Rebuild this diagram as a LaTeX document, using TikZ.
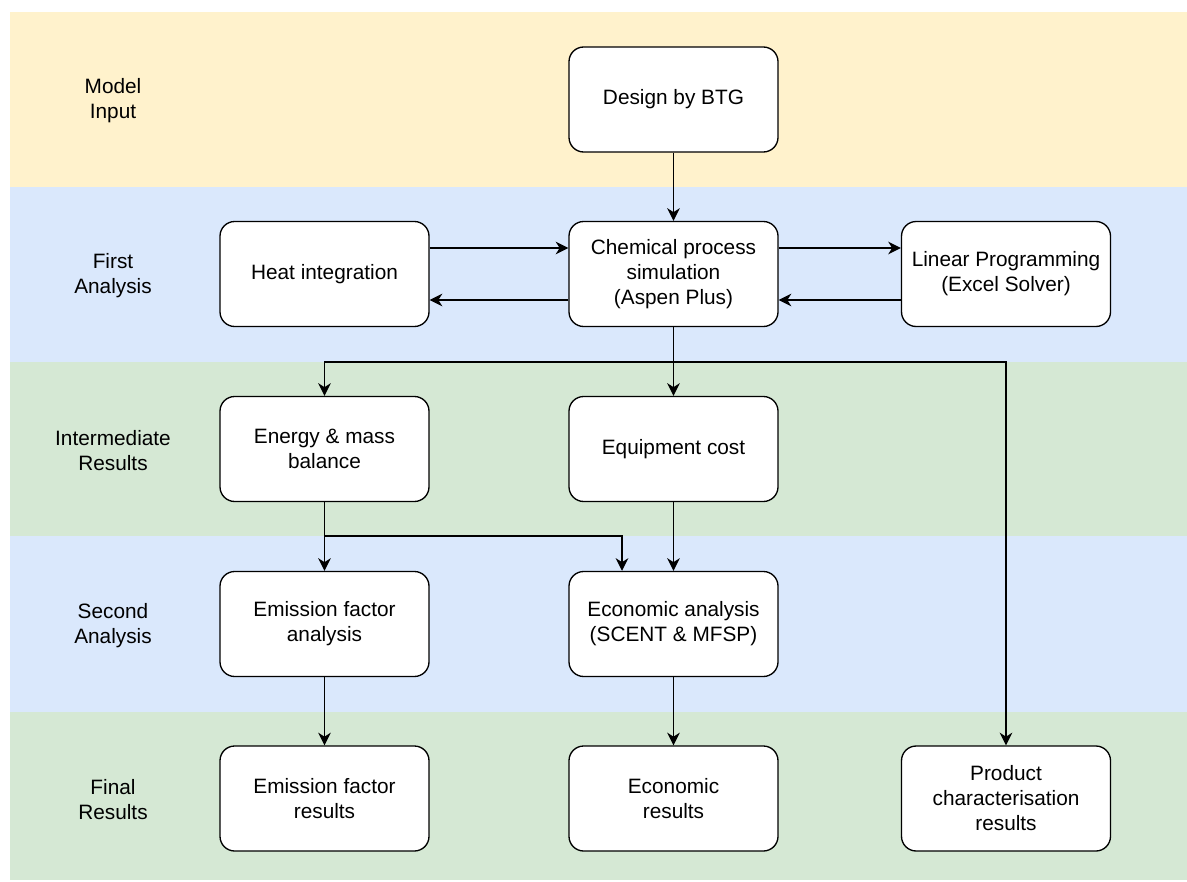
\documentclass[tikz,border=0pt]{standalone}
\usepackage{fontspec}
\setmainfont{Liberation Sans}
\usetikzlibrary{arrows.meta,calc}
\definecolor{bandY}{HTML}{FFF2CC}
\definecolor{bandB}{HTML}{DAE8FC}
\definecolor{bandG}{HTML}{D5E8D4}
\tikzset{
  box/.style={draw=black, fill=white, rounded corners=11pt, line width=1pt,
    minimum width=156.75pt, minimum height=78.75pt, inner sep=0pt,
    align=center, font=\fontsize{15.6}{18.75}\selectfont},
  lbl/.style={align=center, font=\fontsize{15.6}{18.75}\selectfont},
  arr/.style={draw=black, line width=1.05pt, -{Stealth[length=9.5pt,width=9.5pt,inset=3pt]}},
  ln/.style={draw=black, line width=1pt}
}
\begin{document}
\begin{tikzpicture}[x=0.75pt,y=-0.75pt]
\useasboundingbox (0,0) rectangle (1187,881);
% bands
\fill[bandY] (10,12) rectangle (1187,187);
\fill[bandB] (10,187) rectangle (1187,362);
\fill[bandG] (10,362) rectangle (1187,536);
\fill[bandB] (10,536) rectangle (1187,712);
\fill[bandG] (10,712) rectangle (1187,880);
% band labels
\node[lbl] (l1) at (113,101) {Model\\Input};
\node[lbl] (l2) at (113,275.5) {First\\Analysis};
\node[lbl] (l3) at (113,450.5) {Intermediate\\Results};
\node[lbl] (l4) at (113,625.5) {Second\\Analysis};
\node[lbl] (l5) at (113,800) {Final\\Results};
% boxes
\node[box] (btg) at (673.5,99.5) {Design by BTG};
\node[box] (heat) at (324.5,274) {Heat integration};
\node[box] (chem) at (673.5,274) {Chemical process\\simulation\\(Aspen Plus)};
\node[box] (lp) at (1006,274) {Linear Programming\\(Excel Solver)};
\node[box] (energy) at (324.5,449) {Energy \& mass\\balance};
\node[box] (equip) at (673.5,449) {Equipment cost};
\node[box] (emisA) at (324.5,624) {Emission factor\\analysis};
\node[box] (econA) at (673.5,624) {Economic analysis\\(SCENT \& MFSP)};
\node[box] (emisR) at (324.5,798.5) {Emission factor\\results};
\node[box] (econR) at (673.5,798.5) {Economic\\results};
\node[box] (prod) at (1006,798.5) {Product\\characterisation\\results};
% connectors
\draw[arr] (btg) -- (chem);
\draw[arr] ([yshift=19.5pt]heat.east) -- ([yshift=19.5pt]chem.west);
\draw[arr] ([yshift=-19.5pt]chem.west) -- ([yshift=-19.5pt]heat.east);
\draw[arr] ([yshift=19.5pt]chem.east) -- ([yshift=19.5pt]lp.west);
\draw[arr] ([yshift=-19.5pt]lp.west) -- ([yshift=-19.5pt]chem.east);
\coordinate (split) at (673.5,362);
\draw[arr] (chem) -- (equip);
\draw[arr] (split) -| (energy.north);
\draw[arr] (split) -| (prod.north);
\draw[arr] (energy) -- (emisA);
\coordinate (j) at (324.5,536);
\draw[arr] (j) -| ([xshift=-38.6pt]econA.north);
\draw[arr] (equip) -- (econA);
\draw[arr] (emisA) -- (emisR);
\draw[arr] (econA) -- (econR);
\end{tikzpicture}
\end{document}
